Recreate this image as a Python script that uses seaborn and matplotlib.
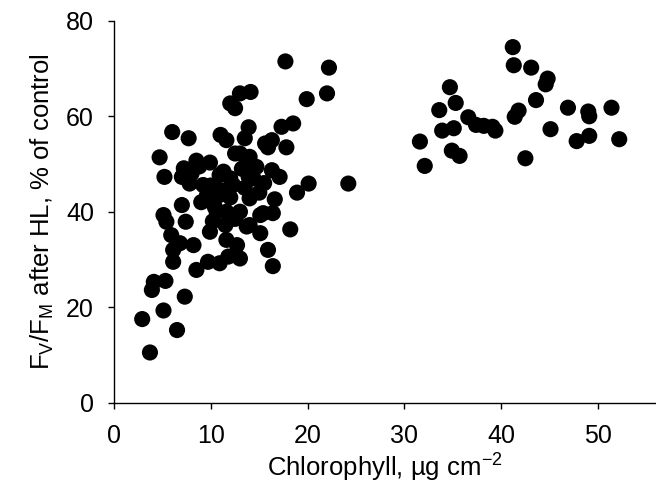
import matplotlib
matplotlib.use("Agg")
import matplotlib.pyplot as plt
import seaborn as sns
import pandas as pd

# Chlorophyll (µg cm-2) and Fv/Fm after HL (% of control)
chl_low = [17.7, 22.2, 14.1, 13.0, 12.0, 12.5, 19.9, 22.0, 18.5, 17.3,
           6.0, 7.7, 11.0, 11.6, 13.9, 13.5, 15.6, 16.3, 15.9, 17.8,
           4.7, 13.0, 14.0, 8.5, 9.9, 7.2, 5.2, 7.0, 8.0, 11.3,
           14.7, 16.3, 17.1, 13.9, 24.2, 20.1, 18.9, 16.6, 7.8, 7.0,
           5.1, 5.4, 7.4, 18.2, 15.4, 16.4, 15.1, 5.9, 6.8, 8.2,
           6.1, 6.1, 8.5, 9.7, 10.9, 9.9, 11.5, 11.6, 12.7, 13.0,
           11.8, 10.6, 13.7, 15.9, 16.4, 4.1, 5.3, 3.9, 7.3, 5.1,
           2.9, 6.5, 3.7, 14.4, 12.3, 14.0, 13.0, 14.0, 15.1, 9.2,
           10.9, 12.0, 9.6, 10.9, 10.4, 11.6, 12.5, 9.0, 12.0, 13.5,
           10.0, 15.5, 15.0, 12.5, 11.0, 8.8, 10.2, 13.2]
fv_low = [71.5, 70.2, 65.1, 64.8, 62.7, 61.7, 63.6, 64.8, 58.5, 57.8,
          56.7, 55.4, 56.1, 55.0, 57.7, 55.4, 54.3, 55.0, 53.5, 53.5,
          51.4, 52.2, 51.5, 50.7, 50.3, 49.1, 47.3, 47.3, 48.0, 48.4,
          49.4, 48.7, 47.3, 47.3, 45.9, 45.9, 44.0, 42.6, 45.9, 41.4,
          39.3, 37.9, 37.9, 36.3, 39.7, 39.7, 35.5, 35.1, 33.4, 33.0,
          32.0, 29.5, 27.8, 29.5, 29.2, 35.8, 37.2, 34.1, 33.0, 30.2,
          30.6, 40.0, 36.9, 32.0, 28.6, 25.3, 25.5, 23.6, 22.2, 19.3,
          17.5, 15.2, 10.5, 47.0, 45.6, 42.8, 40.0, 37.2, 39.3, 45.6,
          47.7, 47.0, 43.5, 43.5, 41.0, 40.0, 52.2, 42.0, 43.0, 45.0,
          45.5, 46.0, 44.0, 38.5, 44.5, 49.5, 38.0, 49.0]
chl_high = [41.2, 41.3, 43.1, 44.8, 44.6, 43.6, 34.7, 35.3, 33.6, 36.6,
            37.4, 38.2, 39.1, 39.4, 41.8, 41.4, 45.1, 46.9, 49.0, 49.1,
            51.4, 47.8, 49.1, 52.2, 31.6, 32.1, 33.9, 35.1, 34.9, 35.7,
            42.5]
fv_high = [74.5, 70.7, 70.2, 67.9, 66.7, 63.4, 66.1, 62.8, 61.3, 59.8,
           58.2, 58.0, 57.8, 57.0, 61.2, 59.9, 57.3, 61.8, 61.0, 60.0,
           61.8, 54.8, 55.9, 55.2, 54.7, 49.6, 57.0, 57.5, 52.8, 51.7,
           51.2]

df = pd.DataFrame({"chl": chl_low + chl_high, "fv": fv_low + fv_high})

sns.set_theme(style="ticks")
plt.rcParams["font.family"] = ["Liberation Sans", "DejaVu Sans"]
plt.rcParams["mathtext.fontset"] = "custom"
plt.rcParams["mathtext.rm"] = "Liberation Sans"
plt.rcParams["mathtext.it"] = "Liberation Sans:italic"
plt.rcParams["text.color"] = "black"
plt.rcParams["axes.labelcolor"] = "black"

fig = plt.figure(figsize=(6.56, 4.97), dpi=100)
ax = fig.add_axes([0.174, 0.19, 0.826, 0.768])
sns.scatterplot(data=df, x="chl", y="fv", ax=ax, s=135, color="black",
                edgecolor="none", linewidth=0, legend=False)
ax.set_xlim(0, 56)
ax.set_ylim(0, 80)
ax.set_xticks([0, 10, 20, 30, 40, 50])
ax.set_yticks([0, 20, 40, 60, 80])
for s in ["top", "right"]:
    ax.spines[s].set_visible(False)
for s in ["left", "bottom"]:
    ax.spines[s].set_color("black")
    ax.spines[s].set_linewidth(1.0)
ax.tick_params(axis="both", direction="out", length=4.5, width=1.0,
               color="black", labelsize=18, labelcolor="black")
ax.tick_params(axis="y", pad=10)
ax.tick_params(axis="x", pad=11)
ax.set_xlabel(r"Chlorophyll, µg cm$^{\mathrm{-2}}$", fontsize=18.5, labelpad=3,
              color="black")
ax.set_ylabel(r"F$_\mathrm{V}$/F$_\mathrm{M}$ after HL, % of control",
              fontsize=18.5, labelpad=7, color="black")
fig.savefig("out.png", dpi=100)
